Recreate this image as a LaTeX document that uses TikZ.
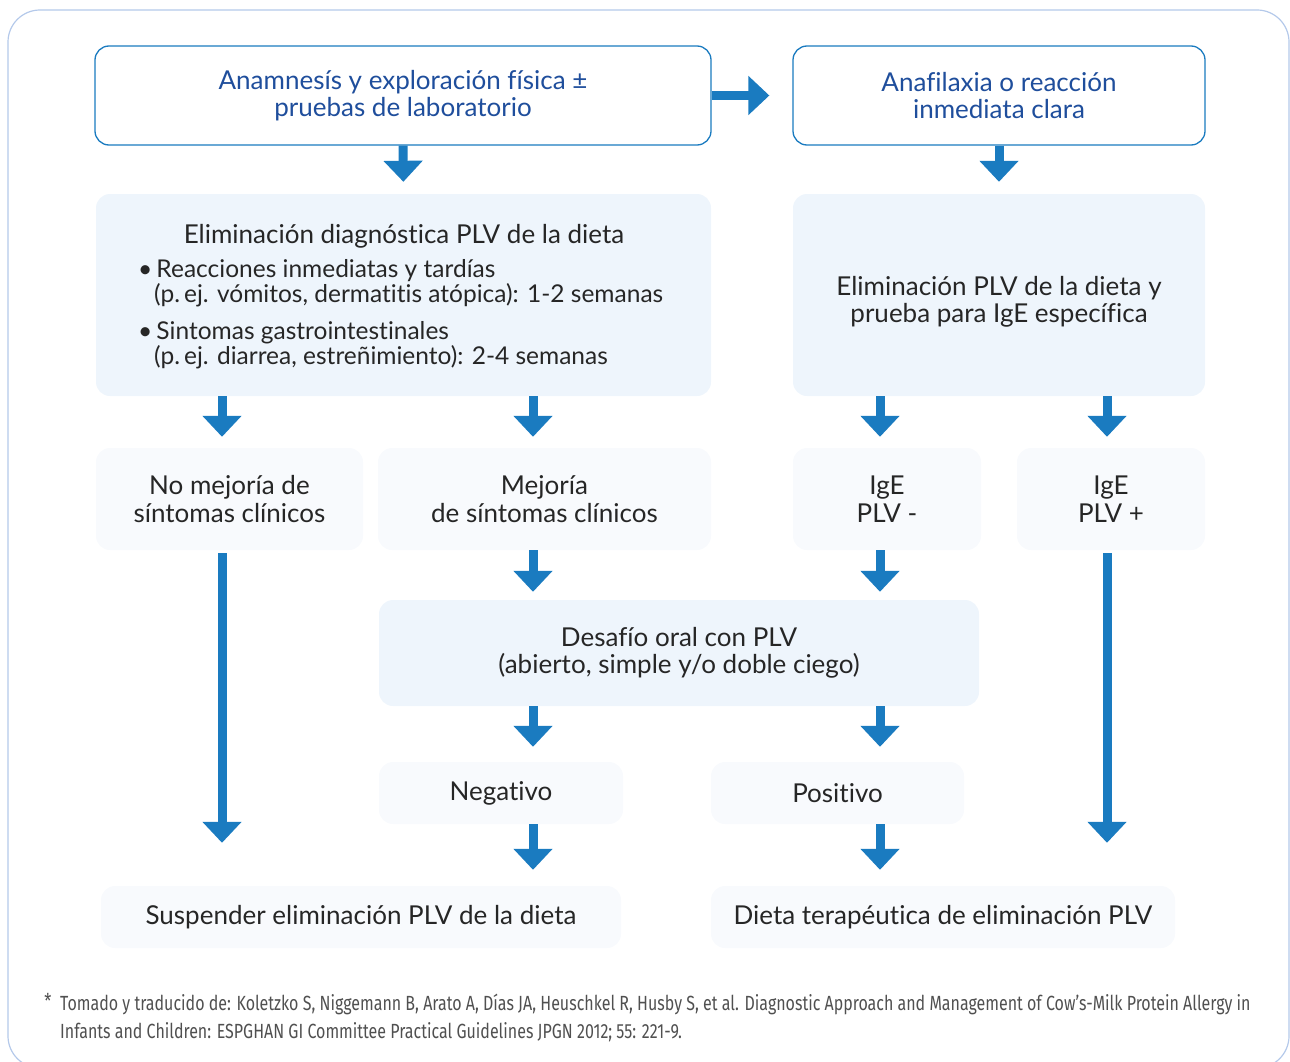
\documentclass[tikz,border=0pt]{standalone}
\usepackage{fontspec}
\setmainfont[Ligatures=NoCommon]{Lato}
\newfontfamily\notefont[FakeStretch=0.78]{Fira Sans}
\usetikzlibrary{arrows.meta,positioning}

\definecolor{flowblue}{HTML}{1A7BC0}
\definecolor{titleblue}{HTML}{1F4E9C}
\definecolor{paleblue}{HTML}{EEF5FC}
\definecolor{faintblue}{HTML}{F8FAFD}
\definecolor{framblue}{HTML}{B4C9EA}
\definecolor{inkgray}{HTML}{262626}
\definecolor{notegray}{HTML}{505050}

\tikzset{
  topbox/.style={draw=flowblue, line width=1.3pt, fill=white, rounded corners=14pt,
    text=titleblue, align=center, inner sep=0pt, minimum height=99pt},
  bigbox/.style={fill=paleblue, rounded corners=14pt, text=inkgray, align=center,
    inner sep=0pt},
  smallbox/.style={fill=faintblue, rounded corners=14pt, text=inkgray, align=center,
    inner sep=0pt},
  flow/.style={draw=flowblue, line width=9pt, -{Triangle[width=38pt,length=21pt]}},
  bodytext/.style={text=inkgray, anchor=base west, inner sep=0pt, font=\fontsize{24.5}{27}\selectfont},
  notetext/.style={text=notegray, inner sep=0pt, font=\notefont\fontsize{20.5}{28}\selectfont},
}

\begin{document}
\begin{tikzpicture}[x=1pt, y=-1pt, font=\fontsize{26}{27.5}\selectfont]

	\useasboundingbox (0,0) rectangle (1290,1062);
	
	% outer frame
	\begin{scope}
	\clip (0,0) rectangle (1290,1062);
	\draw [framblue, line width=1.2pt, rounded corners=32pt] (8,10) rectangle (1289,1068);
	\end{scope}
	
	% columns of the arrows
	\coordinate (col1) at (222,0);
	\coordinate (col2) at (533,0);
	\coordinate (col3) at (880,0);
	\coordinate (col4) at (1107,0);
	
	% first row
	\node [topbox, minimum width=616pt] (anam) at (403,95.5) {Anamnesís y exploración física ±\\pruebas de laboratorio};
	
	\node [topbox, minimum width=412pt] (anaf) at (999,95.5) {Anafilaxia o reacción\\inmediata clara};
	
	% second row
	\node [bigbox, minimum width=615pt, minimum height=202pt] (elimdiag) at (403.5,295) {};
	
	\node [text=inkgray, inner sep=0pt, anchor=base] (elimtitle) at (404,243) {Eliminación diagnóstica PLV de la dieta};
	
	\node [bodytext] (bulA) at (138,277) {\textbullet\,Reacciones inmediatas y tardías};
	
	\node [bodytext] (bulAb) at (154,302) {(p.\,ej. vómitos, dermatitis atópica): 1-2 semanas};
	
	\node [bodytext] (bulB) at (138,339) {\textbullet\,Sintomas gastrointestinales};
	
	\node [bodytext] (bulBb) at (154,364) {(p.\,ej. diarrea, estreñimiento): 2-4 semanas};
	
	\node [bigbox, minimum width=412pt, minimum height=202pt] (elimige) at (999,295) {};
	
	\node [text=inkgray, inner sep=0pt, align=center] (elimigetext) at (999,302) {Eliminación PLV de la dieta y\\prueba para IgE específica};
	
	% third row
	\node [smallbox, minimum width=267pt, minimum height=102pt] (nomej) at (229.5,499) {No mejoría de\\síntomas clínicos};
	
	\node [smallbox, minimum width=333pt, minimum height=102pt] (mej) at (544.5,499) {Mejoría\\de síntomas clínicos};
	
	\node [smallbox, minimum width=188pt, minimum height=102pt] (igeneg) at (887,499) {IgE\\PLV -};
	
	\node [smallbox, minimum width=188pt, minimum height=102pt] (igepos) at (1111,499) {IgE\\PLV +};
	
	% oral challenge
	\node [bigbox, minimum width=600pt, minimum height=106pt] (desafio) at (679,653) {Desafío oral con PLV\\(abierto, simple y/o doble ciego)};
	
	\node [smallbox, minimum width=244pt, minimum height=62pt] (neg) at (501,793) {Negativo};
	
	\node [smallbox, minimum width=253pt, minimum height=62pt] (pos) at (837.5,793) {Positivo};
	
	% last row
	\node [smallbox, minimum width=520pt, minimum height=62pt] (suspender) at (361,917) {Suspender eliminación PLV de la dieta};
	
	\node [smallbox, minimum width=464pt, minimum height=62pt] (dieta) at (943,917) {Dieta terapéutica de eliminación PLV};
	
	% connectors
	\draw [flow, shorten >=23pt] (anam.east) -- (anaf.west);
	\draw [flow, shorten >=12pt] (anam.south) -- (elimdiag.north);
	\draw [flow, shorten >=12pt] (anaf.south) -- (elimige.north);
	
	\draw [flow, shorten >=11pt] (elimdiag.south -| col1) -- (nomej.north -| col1);
	\draw [flow, shorten >=11pt] (elimdiag.south -| col2) -- (mej.north -| col2);
	\draw [flow, shorten >=11pt] (elimige.south -| col3) -- (igeneg.north -| col3);
	\draw [flow, shorten >=11pt] (elimige.south -| col4) -- (igepos.north -| col4);
	
	\draw [flow, shorten <=3pt, shorten >=43pt] (nomej.south -| col1) -- (suspender.north -| col1);
	\draw [flow, shorten <=3pt, shorten >=43pt] (igepos.south -| col4) -- (dieta.north -| col4);
	
	\draw [flow, shorten >=8pt] (mej.south -| col2) -- (desafio.north -| col2);
	\draw [flow, shorten >=8pt] (igeneg.south -| col3) -- (desafio.north -| col3);
	
	\draw [flow, shorten >=15pt] (desafio.south -| col2) -- (neg.north -| col2);
	\draw [flow, shorten >=15pt] (desafio.south -| col3) -- (pos.north -| col3);
	
	\draw [flow, shorten >=16pt] (neg.south -| col2) -- (suspender.north -| col2);
	\draw [flow, shorten >=16pt] (pos.south -| col3) -- (dieta.north -| col3);
	
	% source note
	\node [notetext, anchor=base] (star) at (48,1008) {*};
	
	\node [notetext, anchor=base west, align=left] (source) at (60,1038) {Tomado y traducido de: Koletzko S, Niggemann B, Arato A, Días JA, Heuschkel R, Husby S, et al. Diagnostic Approach and Management of Cow’s-Milk Protein Allergy in\\Infants and Children: ESPGHAN GI Committee Practical Guidelines JPGN 2012; 55: 221-9.};

\end{tikzpicture}
\end{document}
